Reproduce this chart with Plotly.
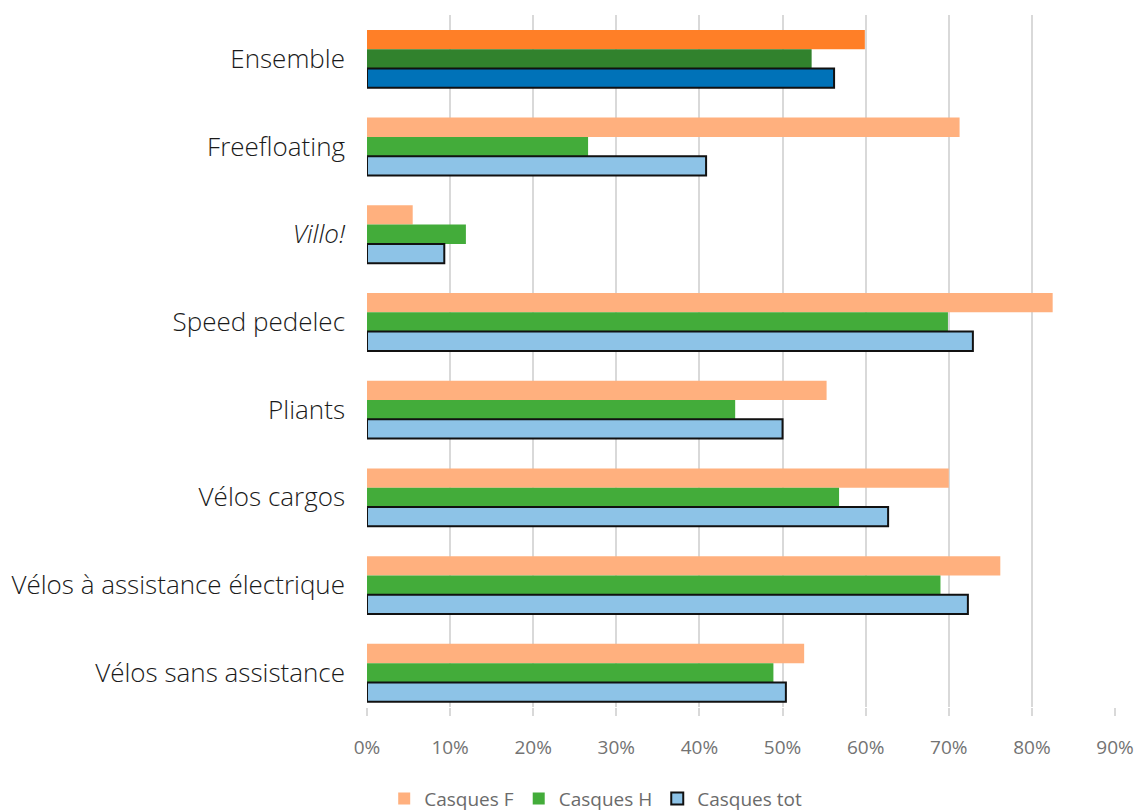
import plotly.graph_objects as go

categories = ["Ensemble", "Freefloating", "<i>Villo!</i>", "Speed pedelec", "Pliants",
              "Vélos cargos", "Vélos à assistance électrique", "Vélos sans assistance"]
casques_f = [0.599, 0.713, 0.055, 0.825, 0.553, 0.700, 0.762, 0.526]
casques_h = [0.535, 0.266, 0.119, 0.699, 0.443, 0.568, 0.690, 0.489]
casques_tot = [0.562, 0.408, 0.093, 0.729, 0.500, 0.627, 0.723, 0.504]

tick_vals = [0, 0.1, 0.2, 0.3, 0.4, 0.5, 0.6, 0.7, 0.8, 0.9]
tick_text = ["0%", "10%", "20%", "30%", "40%", "50%", "60%", "70%", "80%", "90%"]

series_names = ["Casques F", "Casques H", "Casques tot"]
light_colors = ["#FFB07E", "#43AC3A", "#8DC3E7"]
dark_colors = ["#FF7F27", "#31822D", "#0072B8"]
line_colors = [None, None, "#111111"]
line_widths = [0, 0, 2]
values = [casques_f, casques_h, casques_tot]

fig = go.Figure()
for i in range(3):
    cols = [dark_colors[i]] + [light_colors[i]] * (len(categories) - 1)
    line = dict(width=line_widths[i])
    if line_colors[i]:
        line["color"] = line_colors[i]
    fig.add_trace(go.Bar(y=categories, x=values[i], orientation="h", name=series_names[i],
                         offsetgroup=str(i), showlegend=False,
                         marker=dict(color=cols, line=line)))
# legend entries (light colours, as in the reference legend)
for i in range(3):
    line = dict(width=line_widths[i])
    if line_colors[i]:
        line["color"] = line_colors[i]
    fig.add_trace(go.Bar(y=[None], x=[None], orientation="h", name=series_names[i],
                         offsetgroup=str(i), showlegend=True,
                         marker=dict(color=light_colors[i], line=line)))

fig.update_layout(
    width=1138, height=811,
    margin=dict(l=367, r=23, t=15, b=104, autoexpand=False),
    barmode="group", bargap=0.34, bargroupgap=0,
    plot_bgcolor="white", paper_bgcolor="white",
    font=dict(family="Open Sans", color="#1a1a1a"),
    legend=dict(orientation="h", x=0.023, xanchor="left", y=-0.105, yanchor="top",
                font=dict(size=19, color="#6b6b6b"), traceorder="normal",
                itemwidth=30, borderwidth=0, tracegroupgap=0),
    showlegend=True,
)
fig.update_xaxes(range=[0, 0.9], tickvals=tick_vals, ticktext=tick_text,
                 showgrid=True, gridcolor="#D9D9D9", gridwidth=1.5,
                 zeroline=False, showline=False,
                 ticks="outside", ticklen=8, tickcolor="#D9D9D9", tickwidth=1.5,
                 ticklabelstandoff=15,
                 tickfont=dict(size=19, color="#737373"), fixedrange=True)
fig.update_yaxes(categoryorder="array", categoryarray=categories, range=[7.39, -0.5],
                 showgrid=False, zeroline=False, showline=False, ticks="",
                 ticklabelstandoff=21,
                 tickfont=dict(size=26, color="#1a1a1a", weight=300), fixedrange=True)

fig.write_html("out.html")
